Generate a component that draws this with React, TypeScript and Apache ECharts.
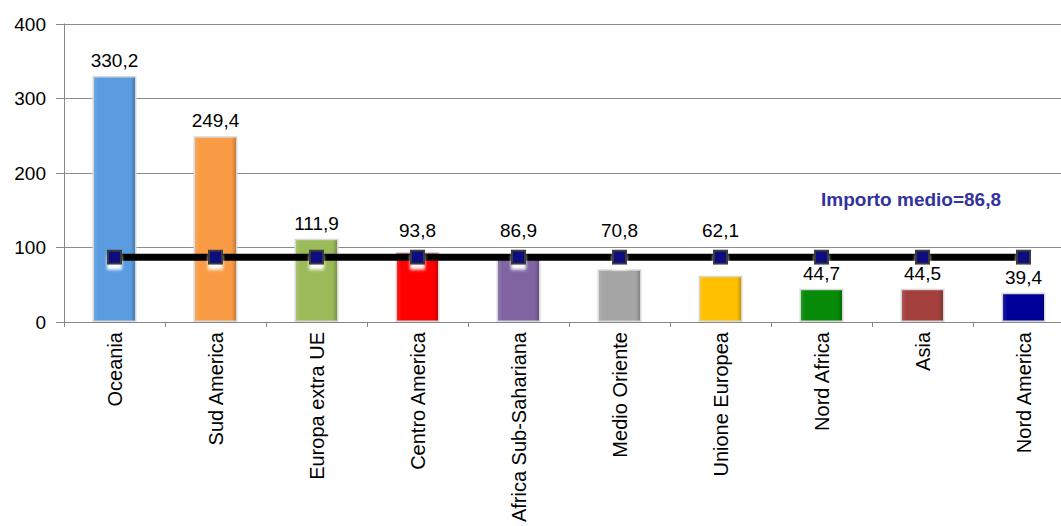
import React, { useEffect, useRef } from "react";
import * as echarts from "echarts";

const categories = [
  "Oceania",
  "Sud America",
  "Europa extra UE",
  "Centro America",
  "Africa Sub-Sahariana",
  "Medio Oriente",
  "Unione Europea",
  "Nord Africa",
  "Asia",
  "Nord America",
];
const values = [330.2, 249.4, 111.9, 93.8, 86.9, 70.8, 62.1, 44.7, 44.5, 39.4];
const average = 86.8;
const averageLine = categories.map(() => average);
const barColors = [
  "#5b9be0",
  "#f99b45",
  "#9bbb59",
  "#ff0000",
  "#8064a2",
  "#a5a5a5",
  "#ffc000",
  "#078a07",
  "#a3403d",
  "#000099",
];
const yTicks = [0, 100, 200, 300, 400];

// Labels of bars that would collide with the average line are lifted above it
const liftedLabelValue = average + 15;
const labelAnchors = values.map((v) => (v > 50 && v < liftedLabelValue ? liftedLabelValue : v));

const FONT = "Arial, 'Liberation Sans', sans-serif";

function fmt(v: number) {
  return v.toFixed(1).replace(".", ",");
}

function shade(hex: string, f: number) {
  const n = parseInt(hex.slice(1), 16);
  let r = (n >> 16) & 255, g = (n >> 8) & 255, b = n & 255;
  const t = f < 0 ? 0 : 255;
  const p = Math.abs(f);
  r = Math.round((t - r) * p + r);
  g = Math.round((t - g) * p + g);
  b = Math.round((t - b) * p + b);
  return `rgb(${r},${g},${b})`;
}

export default function App() {
  const ref = useRef<HTMLDivElement>(null);
  useEffect(() => {
    if (!ref.current) return;
    const chart = echarts.init(ref.current, undefined, { renderer: "svg" });
    chart.setOption({
      animation: false,
      backgroundColor: "#ffffff",
      grid: {
        left: 64,
        width: 1010,
        top: 24,
        bottom: 204,
        containLabel: false,
        outerBoundsMode: "none",
      },
      textStyle: { fontFamily: FONT },
      xAxis: {
        type: "category",
        data: categories,
        axisLine: { show: true, lineStyle: { color: "#888888", width: 1 } },
        axisTick: { show: true, alignWithLabel: false, length: 5, lineStyle: { color: "#888888" } },
        axisLabel: {
          rotate: 90,
          interval: 0,
          margin: 10,
          color: "#000000",
          fontSize: 20,
          fontFamily: FONT,
        },
      },
      yAxis: {
        type: "value",
        min: yTicks[0],
        max: yTicks[yTicks.length - 1],
        interval: 100,
        axisLine: { show: true, lineStyle: { color: "#888888", width: 1 } },
        axisTick: { show: true, length: 8, lineStyle: { color: "#888888" } },
        splitLine: { show: true, lineStyle: { color: "#8c8c8c", width: 1 } },
        axisLabel: {
          color: "#000000",
          fontSize: 19,
          margin: 18,
          fontFamily: FONT,
        },
      },
      series: [
        {
          type: "bar",
          data: values.map((v, i) => ({
            value: v,
            itemStyle: {
              color: new echarts.graphic.LinearGradient(0, 0, 1, 0, [
                { offset: 0, color: shade(barColors[i], 0.15) },
                { offset: 0.12, color: barColors[i] },
                { offset: 0.88, color: barColors[i] },
                { offset: 1, color: shade(barColors[i], -0.25) },
              ]),
              borderColor: "#d8d8d8",
              borderWidth: 1.5,
            },
          })),
          barWidth: 44,
          z: 2,
        },
        {
          type: "line",
          data: averageLine,
          symbol: "rect",
          symbolSize: 13,
          itemStyle: {
            color: "#0a0a80",
            borderColor: "#3a3a3a",
            borderWidth: 2,
            shadowColor: "rgba(255,255,255,0.95)",
            shadowBlur: 3,
            shadowOffsetY: 5,
          },
          lineStyle: { color: "#000000", width: 7 },
          z: 5,
        },
        {
          type: "bar",
          data: labelAnchors,
          barWidth: 44,
          barGap: "-100%",
          itemStyle: { color: "rgba(0,0,0,0)" },
          silent: true,
          label: {
            show: true,
            position: "top",
            distance: 6,
            color: "#000000",
            fontSize: 19,
            fontFamily: FONT,
            formatter: (p: any) => fmt(values[p.dataIndex]),
          },
          z: 6,
        },
      ],
      graphic: [
        {
          type: "text",
          left: 821,
          top: 190,
          style: {
            text: "Importo medio=" + fmt(average),
            fill: "#333399",
            fontSize: 19,
            fontWeight: "bold",
            fontFamily: FONT,
          },
        },
      ],
    });
    return () => chart.dispose();
  }, []);
  return (
    <div
      ref={ref}
      style={{ position: "fixed", left: 0, top: 0, width: 1061, height: 526 }}
    />
  );
}
